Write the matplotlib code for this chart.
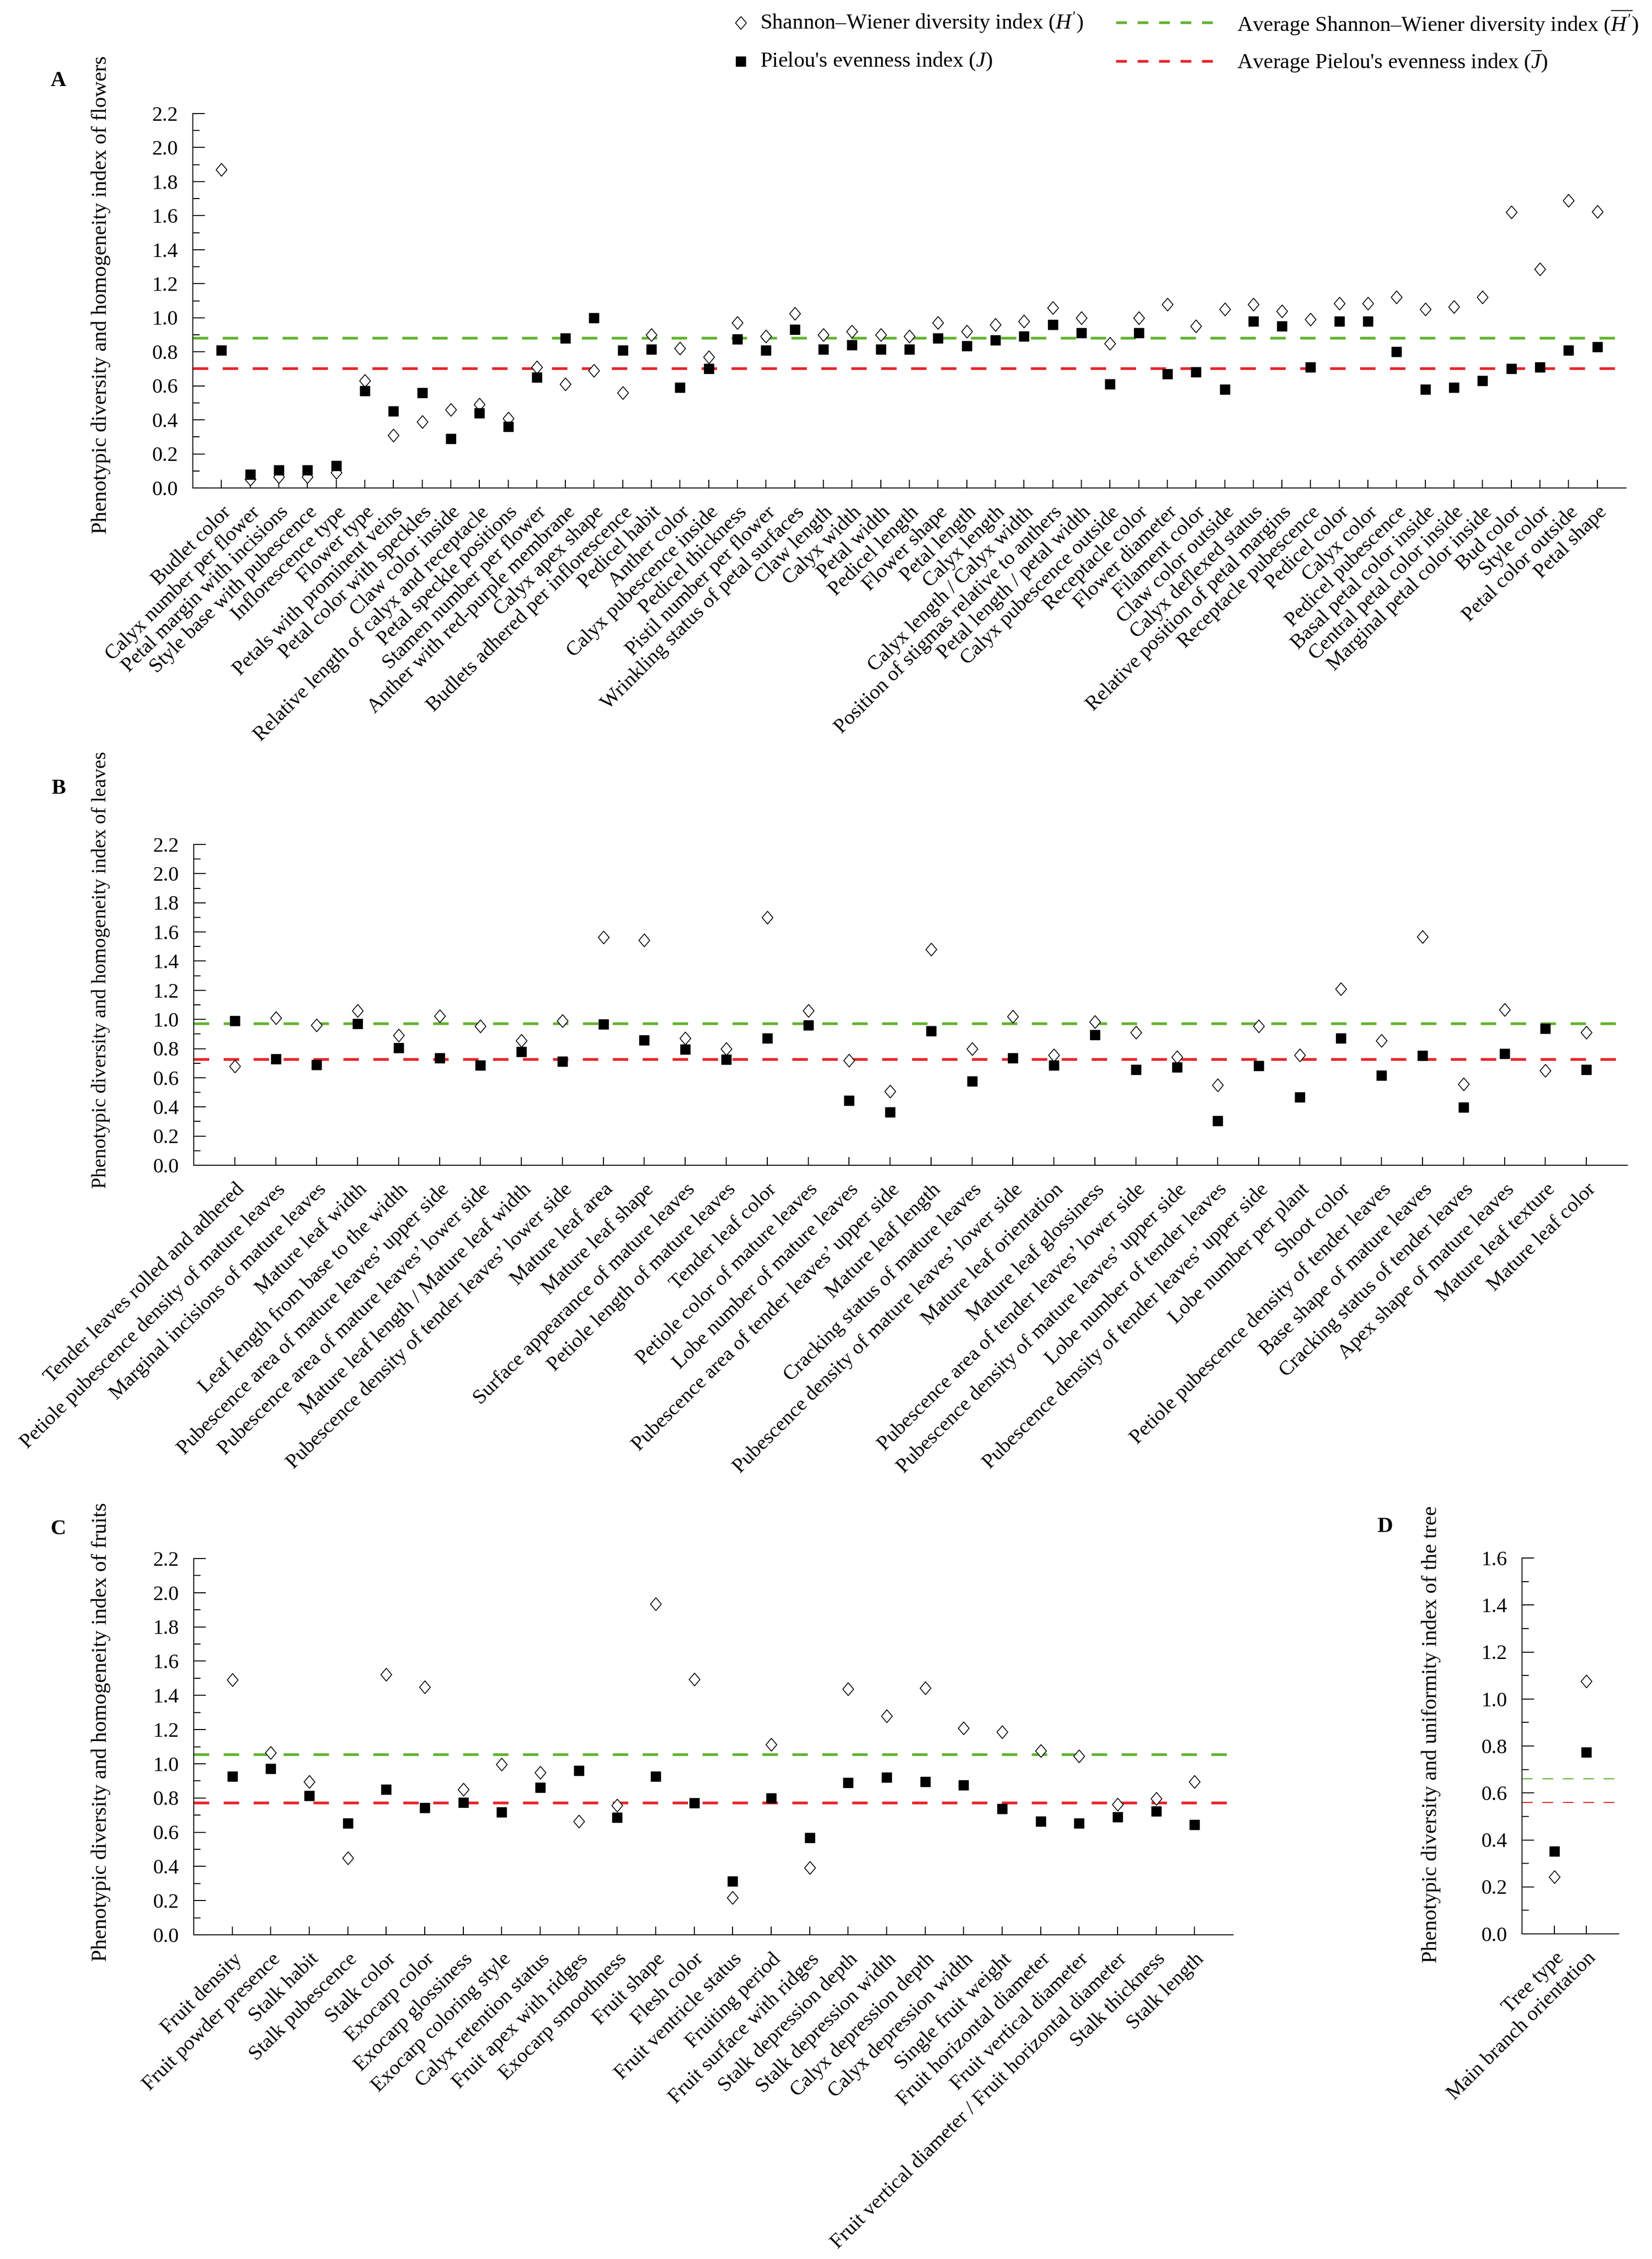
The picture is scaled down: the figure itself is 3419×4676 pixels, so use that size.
import matplotlib
matplotlib.use('Agg')
import matplotlib.pyplot as plt
from matplotlib.lines import Line2D
from matplotlib.path import Path
from matplotlib.ticker import MultipleLocator, FormatStrFormatter

plt.rcParams['font.family'] = ['Liberation Serif', 'DejaVu Serif']
plt.rcParams['mathtext.fontset'] = 'custom'
plt.rcParams['mathtext.rm'] = 'Liberation Serif'
plt.rcParams['mathtext.it'] = 'Liberation Serif:italic'

# ---- data ----
flower_traits = [
    'Budlet color', 'Calyx number per flower', 'Petal margin with incisions',
    'Style base with pubescence', 'Inflorescence type', 'Flower type',
    'Petals with prominent veins', 'Petal color with speckles', 'Claw color inside',
    'Relative length of calyx and receptacle', 'Petal speckle positions',
    'Stamen number per flower', 'Anther with red-purple membrane', 'Calyx apex shape',
    'Budlets adhered per inflorescence', 'Pedicel habit', 'Anther color',
    'Calyx pubescence inside', 'Pedicel thickness', 'Pistil number per flower',
    'Wrinkling status of petal surfaces', 'Claw length', 'Calyx width', 'Petal width',
    'Pedicel length', 'Flower shape', 'Petal length', 'Calyx length',
    'Calyx length / Calyx width', 'Position of stigmas relative to anthers',
    'Petal length / petal width', 'Calyx pubescence outside', 'Receptacle color',
    'Flower diameter', 'Filament color', 'Claw color outside', 'Calyx deflexed status',
    'Relative position of petal margins', 'Receptacle pubescence', 'Pedicel color',
    'Calyx color', 'Pedicel pubescence', 'Basal petal color inside',
    'Central petal color inside', 'Marginal petal color inside', 'Bud color',
    'Style color', 'Petal color outside', 'Petal shape']
flower_H = [1.87, 0.05, 0.065, 0.065, 0.09, 0.63, 0.31, 0.39, 0.46, 0.49, 0.41,
            0.71, 0.61, 0.69, 0.56, 0.90, 0.82, 0.77, 0.97, 0.89, 1.025, 0.90,
            0.92, 0.90, 0.89, 0.97, 0.92, 0.96, 0.98, 1.06, 1.00, 0.85, 1.00,
            1.08, 0.95, 1.05, 1.08, 1.04, 0.99, 1.085, 1.085, 1.12, 1.05, 1.065,
            1.12, 1.62, 1.285, 1.69, 1.625]
flower_J = [0.81, 0.08, 0.105, 0.105, 0.13, 0.57, 0.45, 0.56, 0.29, 0.44, 0.36,
            0.65, 0.88, 1.00, 0.81, 0.815, 0.59, 0.70, 0.875, 0.81, 0.93, 0.815,
            0.84, 0.815, 0.815, 0.88, 0.836, 0.87, 0.89, 0.96, 0.91, 0.61, 0.91,
            0.67, 0.68, 0.58, 0.98, 0.95, 0.71, 0.98, 0.98, 0.80, 0.58, 0.59,
            0.63, 0.70, 0.71, 0.81, 0.83]
flower_avg_H = 0.88
flower_avg_J = 0.70

leaf_traits = [
    'Tender leaves rolled and adhered', 'Petiole pubescence density of mature leaves',
    'Marginal incisions of mature leaves', 'Mature leaf width',
    'Leaf length from base to the width',
    'Pubescence area of mature leaves\u2019 upper side',
    'Pubescence area of mature leaves\u2019 lower side',
    'Mature leaf length / Mature leaf width',
    'Pubescence density of tender leaves\u2019 lower side', 'Mature leaf area',
    'Mature leaf shape', 'Surface appearance of mature leaves',
    'Petiole length of mature leaves', 'Tender leaf color',
    'Petiole color of mature leaves', 'Lobe number of mature leaves',
    'Pubescence area of tender leaves\u2019 upper side', 'Mature leaf length',
    'Cracking status of mature leaves',
    'Pubescence density of mature leaves\u2019 lower side', 'Mature leaf orientation',
    'Mature leaf glossiness', 'Pubescence area of tender leaves\u2019 lower side',
    'Pubescence density of mature leaves\u2019 upper side', 'Lobe number of tender leaves',
    'Pubescence density of tender leaves\u2019 upper side', 'Lobe number per plant',
    'Shoot color', 'Petiole pubescence density of tender leaves',
    'Base shape of mature leaves', 'Cracking status of tender leaves',
    'Apex shape of mature leaves', 'Mature leaf texture', 'Mature leaf color']
leaf_H = [0.68, 1.01, 0.96, 1.06, 0.89, 1.025, 0.955, 0.856, 0.99, 1.565, 1.543,
          0.873, 0.80, 1.70, 1.06, 0.72, 0.507, 1.48, 0.80, 1.02, 0.757, 0.983,
          0.91, 0.742, 0.55, 0.953, 0.757, 1.21, 0.856, 1.567, 0.556, 1.067,
          0.651, 0.91]
leaf_J = [0.99, 0.73, 0.69, 0.97, 0.805, 0.735, 0.687, 0.778, 0.712, 0.968, 0.858,
          0.795, 0.725, 0.87, 0.96, 0.444, 0.364, 0.92, 0.575, 0.735, 0.687, 0.896,
          0.655, 0.672, 0.304, 0.683, 0.467, 0.873, 0.615, 0.753, 0.397, 0.767,
          0.937, 0.655]
leaf_avg_H = 0.97
leaf_avg_J = 0.725

fruit_traits = [
    'Fruit density', 'Fruit powder presence', 'Stalk habit', 'Stalk pubescence',
    'Stalk color', 'Exocarp color', 'Exocarp glossiness', 'Exocarp coloring style',
    'Calyx retention status', 'Fruit apex with ridges', 'Exocarp smoothness',
    'Fruit shape', 'Flesh color', 'Fruit ventricle status', 'Fruiting period',
    'Fruit surface with ridges', 'Stalk depression depth', 'Stalk depression width',
    'Calyx depression depth', 'Calyx depression width', 'Single fruit weight',
    'Fruit horizontal diameter', 'Fruit vertical diameter',
    'Fruit vertical diameter / Fruit horizontal diameter', 'Stalk thickness',
    'Stalk length']
fruit_H = [1.49, 1.065, 0.895, 0.449, 1.522, 1.45, 0.851, 0.997, 0.948, 0.663,
           0.757, 1.935, 1.494, 0.217, 1.113, 0.392, 1.438, 1.28, 1.442, 1.21,
           1.186, 1.076, 1.045, 0.762, 0.797, 0.895]
fruit_J = [0.927, 0.971, 0.814, 0.652, 0.849, 0.744, 0.773, 0.716, 0.862, 0.959,
           0.687, 0.927, 0.77, 0.314, 0.80, 0.567, 0.891, 0.922, 0.895, 0.875,
           0.737, 0.665, 0.652, 0.689, 0.724, 0.643]
fruit_avg_H = 1.053
fruit_avg_J = 0.77

tree_traits = ['Tree type', 'Main branch orientation']
tree_H = [0.243, 1.075]
tree_J = [0.351, 0.774]
tree_avg_H = 0.66
tree_avg_J = 0.56

# ---- style ----
W, H = 3419, 4676
GREEN = '#62B22F'
RED = '#E8232A'
FS = 31
diamond = Path([(0, 1), (0.85, 0), (0, -1), (-0.85, 0), (0, 1)], closed=True)


def box(left, top, right, bottom):
    """pixel box -> figure fraction rect"""
    return [left / W, 1 - bottom / H, (right - left) / W, (bottom - top) / H]


def draw_panel(ax, labels, hvals, jvals, avg_h, avg_j, ymax, thin=False):
    n = len(labels)
    x = list(range(n))
    if thin:
        lw, dash = 1.6, (0, (10, 9))
    else:
        lw, dash = 4, (0, (5.75, 5.4))
    ax.axhline(avg_h, color=GREEN, lw=lw, ls=dash, zorder=2)
    ax.axhline(avg_j, color=RED, lw=lw, ls=dash, zorder=2)
    ax.plot(x, hvals, ls='none', marker=diamond, ms=19, mfc='white',
            mec='black', mew=1.3, zorder=3)
    ax.plot(x, jvals, ls='none', marker='s', ms=14, color='black', zorder=4)
    ax.set_xlim(-1, n)
    ax.set_ylim(0, ymax)
    ax.set_xticks(x)
    ax.set_xticklabels(labels, rotation=45, ha='right', va='top',
                       rotation_mode='anchor', fontsize=FS)
    ax.yaxis.set_major_locator(MultipleLocator(0.2))
    ax.yaxis.set_minor_locator(MultipleLocator(0.1))
    ax.yaxis.set_major_formatter(FormatStrFormatter('%.1f'))
    ax.tick_params(axis='x', direction='in', length=12, width=1.5, pad=22)
    ax.tick_params(axis='y', which='major', direction='in', length=18,
                   width=1.5, labelsize=FS, pad=22)
    ax.tick_params(axis='y', which='minor', direction='in', length=10, width=1.5)
    for s in ['top', 'right']:
        ax.spines[s].set_visible(False)
    for s in ['left', 'bottom']:
        ax.spines[s].set_linewidth(1.5)


fig = plt.figure(figsize=(W / 100, H / 100), dpi=100)

axA = fig.add_axes(box(399, 235, 3365, 1010))
draw_panel(axA, flower_traits, flower_H, flower_J, flower_avg_H, flower_avg_J, 2.2)
axB = fig.add_axes(box(401, 1748, 3368, 2412))
draw_panel(axB, leaf_traits, leaf_H, leaf_J, leaf_avg_H, leaf_avg_J, 2.2)
axC = fig.add_axes(box(401, 3226, 2552, 4005))
draw_panel(axC, fruit_traits, fruit_H, fruit_J, fruit_avg_H, fruit_avg_J, 2.2)
axD = fig.add_axes(box(3150, 3225, 3350, 4003))
draw_panel(axD, tree_traits, tree_H, tree_J, tree_avg_H, tree_avg_J, 1.6, thin=True)


def ftext(x, y, s, **kw):
    fig.text(x / W, 1 - y / H, s, **kw)


# panel letters
for letter, (lx, ly) in {'A': (121, 167), 'B': (121, 1632),
                         'C': (121, 3165), 'D': (2866, 3160)}.items():
    ftext(lx, ly, letter, fontsize=32, fontweight='bold', ha='center', va='center')

# y-axis titles
ftext(209, 610, 'Phenotypic diversity and homogeneity index of flowers',
      fontsize=32, rotation=90, ha='center', va='center')
ftext(209, 2008, 'Phenotypic diversity and homogeneity index of leaves',
      fontsize=30, rotation=90, ha='center', va='center')
ftext(209, 3585, 'Phenotypic diversity and homogeneity index of fruits',
      fontsize=32, rotation=90, ha='center', va='center')
ftext(2962, 3590, 'Phenotypic diversity and uniformity index of the tree',
      fontsize=32, rotation=90, ha='center', va='center')

# legend (figure level, top right)
row1, row2 = 47, 127
fig.add_artist(Line2D([1533 / W], [1 - row1 / H], marker=diamond, ms=19,
                      mfc='white', mec='black', mew=1.3, ls='none',
                      transform=fig.transFigure))
fig.add_artist(Line2D([1533 / W], [1 - row2 / H], marker='s', ms=14,
                      color='black', ls='none', transform=fig.transFigure))
for yy, col in [(row1, GREEN), (row2, RED)]:
    fig.add_artist(Line2D([2310 / W, 2516 / W], [1 - yy / H, 1 - yy / H],
                          color=col, lw=4, ls=(0, (4, 4)),
                          transform=fig.transFigure))
ftext(1573, row1, "Shannon\u2013Wiener diversity index ($H'$)", fontsize=32, va='center')
ftext(1573, row2, "Pielou's evenness index ($J$)", fontsize=32, va='center')
ftext(2560, row1, "Average Shannon\u2013Wiener diversity index ($\\overline{H'}$)",
      fontsize=32, va='center')
ftext(2560, row2, "Average Pielou's evenness index ($\\overline{J}$)",
      fontsize=32, va='center')

fig.savefig('out.png', dpi=100)
